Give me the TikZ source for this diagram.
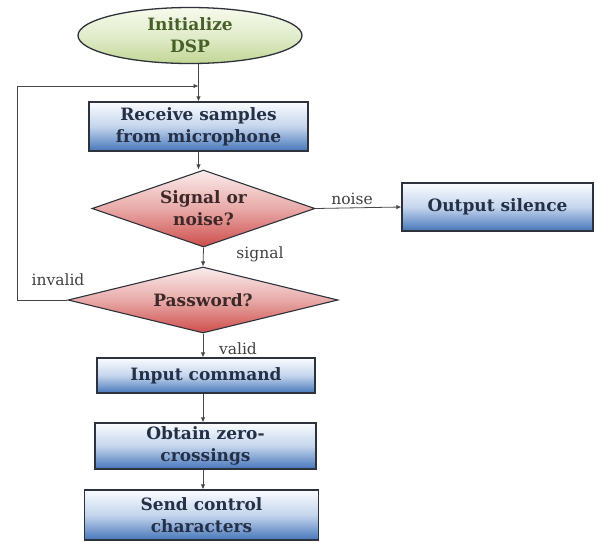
\documentclass[tikz,border=0pt]{standalone}
\usepackage{fontspec}
\setmainfont{DejaVu Serif}
\usetikzlibrary{shapes.geometric,arrows.meta}
\definecolor{boxtop}{RGB}{250,252,255}
\definecolor{boxmid}{RGB}{196,213,236}
\definecolor{boxbot}{RGB}{70,118,186}
\definecolor{boxtext}{RGB}{36,48,72}
\definecolor{dtop}{RGB}{250,236,236}
\definecolor{dmid}{RGB}{232,170,168}
\definecolor{dbot}{RGB}{206,78,76}
\definecolor{dtext}{RGB}{60,40,40}
\definecolor{etop}{RGB}{246,250,236}
\definecolor{ebot}{RGB}{194,214,150}
\definecolor{etext}{RGB}{70,96,40}
\definecolor{edge}{RGB}{45,50,60}
\definecolor{conn}{RGB}{70,70,70}
\tikzset{
  procbox/.style={rectangle, draw=edge, line width=1.3pt, inner sep=0pt,
    top color=boxtop, bottom color=boxbot, middle color=boxmid,
    text=boxtext, font=\fontsize{17}{22}\selectfont\bfseries, align=center},
  decbox/.style={diamond, draw=edge, line width=1.1pt, inner sep=0pt,
    top color=dtop, bottom color=dbot, middle color=dmid,
    text=dtext, font=\fontsize{17}{22}\selectfont\bfseries, align=center},
  termbox/.style={ellipse, draw=edge, line width=1.3pt, inner sep=0pt,
    top color=etop, bottom color=ebot, middle color={rgb,255:red,226;green,236;blue,204},
    text=etext, font=\fontsize{17}{22}\selectfont\bfseries, align=center},
  arr/.style={draw=conn, line width=0.8pt, -{Latex[length=5pt,width=4.5pt]}},
  lbl/.style={text=black!75, font=\fontsize{15.5}{18}\selectfont, inner sep=0pt}
}
\begin{document}
\begin{tikzpicture}[x=1pt,y=-1pt]
\useasboundingbox (0,0) rectangle (598,542);
\node[termbox, minimum width=224, minimum height=56] (init) at (190,35.5) {Initialize\\DSP};
\node[procbox, minimum width=219, minimum height=49] (recv) at (198.5,126.5) {Receive samples\\from microphone};
\node[decbox, shape aspect=2.9, minimum width=223, minimum height=77] (sig) at (203.5,208.5) {Signal or\\noise?};
\node[procbox, minimum width=191, minimum height=48] (out) at (497.5,207) {Output silence};
\node[decbox, shape aspect=4.1, minimum width=270, minimum height=66] (pass) at (203,300) {Password?};
\node[procbox, minimum width=218, minimum height=35] (inp) at (206,375.5) {Input command};
\node[procbox, minimum width=221, minimum height=46] (obt) at (205.5,446) {Obtain zero-\\crossings};
\node[procbox, minimum width=234, minimum height=50] (send) at (201.5,515) {Send control\\characters};
\coordinate (loopL) at (17,86);

\draw[arr] (init.south -| recv.north) -- (recv.north);
\draw[arr] (recv.south) -- (recv.south |- sig.north);
\draw[arr] (sig.east) -- (out.west);
\draw[arr] (sig.south) -- (pass.north);
\draw[arr] (pass.south) -- (pass.south |- inp.north);
\draw[arr] (inp.south -| pass.south) -- (obt.north -| pass.south);
\draw[arr] (obt.south -| pass.south) -- (send.north -| pass.south);
\draw[arr] (pass.west) -| (loopL) -- (loopL -| recv.north);

\node[lbl] (lnoise) at (352,199) {noise};
\node[lbl] (lsignal) at (260,254) {signal};
\node[lbl] (lvalid) at (238,349) {valid};
\node[lbl] (linvalid) at (58,280) {invalid};
\end{tikzpicture}
\end{document}
